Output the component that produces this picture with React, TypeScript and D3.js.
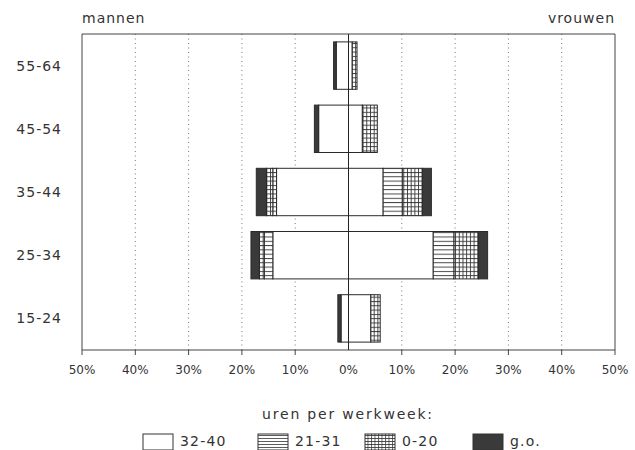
import React from "react";
import * as d3 from "d3";

const ageGroups = ["55-64", "45-54", "35-44", "25-34", "15-24"];
const hourClasses = ["32-40", "21-31", "0-20", "g.o."];
// men, % per class (order of ageGroups)
const men3240 = [2.3, 5.6, 13.5, 14.2, 1.4];
const men2131 = [0, 0, 0.7, 1.6, 0];
const men020 = [0, 0, 1.2, 0.9, 0];
const menGo = [0.5, 0.8, 1.9, 1.6, 0.6];
// women
const women3240 = [0.7, 2.6, 6.5, 15.9, 4.2];
const women2131 = [0, 0, 3.6, 3.9, 0];
const women020 = [0.9, 2.8, 3.75, 4.6, 1.75];
const womenGo = [0, 0, 1.7, 1.7, 0];
const xTicks = [-50, -40, -30, -20, -10, 0, 10, 20, 30, 40, 50];
const sideLabels = ["mannen", "vrouwen"];
const legendTitle = "uren per werkweek:";

const W = 635;
const H = 450;
const FONT = "'DejaVu Sans', sans-serif";
const TXT = "#333";

const fills = ["#ffffff", "url(#hLines)", "url(#grid)", "#3a3a3a"];
const legendFills = ["#ffffff", "url(#hLinesL)", "url(#gridL)", "#3a3a3a"];

export default function App() {
  const x = d3.scaleLinear().domain([-50, 50]).range([82, 615]);
  const y = d3
    .scaleBand<string>()
    .domain(ageGroups)
    .range([34, 350])
    .paddingInner(0.25)
    .paddingOuter(0.125);

  const menSeries = [men3240, men2131, men020, menGo];
  const womenSeries = [women3240, women2131, women020, womenGo];

  const segs: { key: string; x0: number; x1: number; y: number; h: number; fill: string }[] = [];
  ageGroups.forEach((g, i) => {
    let cm = 0;
    menSeries.forEach((s, k) => {
      const v = s[i];
      if (v > 0) {
        segs.push({ key: `m${i}${k}`, x0: x(-(cm + v)), x1: x(-cm), y: y(g)!, h: y.bandwidth(), fill: fills[k] });
      }
      cm += v;
    });
    let cw = 0;
    womenSeries.forEach((s, k) => {
      const v = s[i];
      if (v > 0) {
        segs.push({ key: `w${i}${k}`, x0: x(cw), x1: x(cw + v), y: y(g)!, h: y.bandwidth(), fill: fills[k] });
      }
      cw += v;
    });
  });

  const top = 34;
  const bottom = 350;
  const legendX = [143, 258, 365, 473];

  return (
    <svg
      width={W}
      height={H}
      style={{ position: "absolute", left: 0, top: 0, background: "#fff" }}
      fontFamily={FONT}
    >
      <defs>
        <pattern id="hLines" patternUnits="userSpaceOnUse" width="10" height="4.3">
          <rect width="10" height="4.3" fill="#fff" />
          <line x1="0" x2="10" y1="0.5" y2="0.5" stroke="#333" strokeWidth="0.9" />
        </pattern>
        <pattern id="grid" patternUnits="userSpaceOnUse" width="3.7" height="4.3">
          <rect width="3.7" height="4.3" fill="#fff" />
          <line x1="0" x2="3.7" y1="0.5" y2="0.5" stroke="#333" strokeWidth="0.9" />
          <line x1="0.5" x2="0.5" y1="0" y2="4.3" stroke="#333" strokeWidth="0.9" />
        </pattern>
        <pattern id="hLinesL" patternUnits="userSpaceOnUse" width="10" height="3">
          <rect width="10" height="3" fill="#fff" />
          <line x1="0" x2="10" y1="0.5" y2="0.5" stroke="#333" strokeWidth="0.8" />
        </pattern>
        <pattern id="gridL" patternUnits="userSpaceOnUse" width="3.5" height="3">
          <rect width="3.5" height="3" fill="#fff" />
          <line x1="0" x2="3.5" y1="0.5" y2="0.5" stroke="#333" strokeWidth="0.8" />
          <line x1="0.5" x2="0.5" y1="0" y2="3" stroke="#333" strokeWidth="0.8" />
        </pattern>
      </defs>

      {/* gridlines */}
      {xTicks
        .filter((t) => t !== 0 && Math.abs(t) !== 50)
        .map((t) => (
          <line
            key={`g${t}`}
            x1={x(t)}
            x2={x(t)}
            y1={top}
            y2={bottom}
            stroke="#777"
            strokeWidth={1}
            strokeDasharray="1,3.5"
          />
        ))}

      {/* bars */}
      {segs.map((s) => (
        <rect
          key={s.key}
          x={s.x0}
          y={s.y}
          width={s.x1 - s.x0}
          height={s.h}
          fill={s.fill}
          stroke="#2a2a2a"
          strokeWidth={1}
        />
      ))}

      {/* frame */}
      <path
        d={`M${x(-50)},${bottom + 5}V${top}H${x(50)}V${bottom + 5}`}
        fill="none"
        stroke="#444"
        strokeWidth={1}
      />
      <line x1={x(-50)} x2={x(50)} y1={bottom} y2={bottom} stroke="#444" strokeWidth={1} />
      <line x1={x(0)} x2={x(0)} y1={top} y2={bottom} stroke="#222" strokeWidth={1} />
      {xTicks
        .filter((t) => t !== 0 && Math.abs(t) !== 50)
        .map((t) => (
          <line key={`t${t}`} x1={x(t)} x2={x(t)} y1={bottom} y2={bottom + 5} stroke="#444" strokeWidth={1} />
        ))}

      {/* tick labels */}
      {xTicks.map((t) => (
        <text
          key={`l${t}`}
          x={x(t)}
          y={374}
          textAnchor="middle"
          fontSize={12}
          fill={TXT}
        >
          {`${Math.abs(t)}%`}
        </text>
      ))}

      {/* y labels */}
      {ageGroups.map((g) => (
        <text
          key={g}
          x={62}
          y={y(g)! + y.bandwidth() / 2 + 5}
          textAnchor="end"
          fontSize={14}
          letterSpacing={1}
          fill={TXT}
        >
          {g}
        </text>
      ))}

      <text x={82} y={23} fontSize={14} letterSpacing={1} fill={TXT}>
        {sideLabels[0]}
      </text>
      <text x={615} y={23} fontSize={14} letterSpacing={1} textAnchor="end" fill={TXT}>
        {sideLabels[1]}
      </text>

      {/* legend */}
      <text x={348} y={419} fontSize={14} letterSpacing={1.8} textAnchor="middle" fill={TXT}>
        {legendTitle}
      </text>
      {hourClasses.map((c, k) => (
        <g key={c}>
          <rect
            x={legendX[k]}
            y={434}
            width={30}
            height={16}
            fill={legendFills[k]}
            stroke="#333"
            strokeWidth={1}
          />
          <text x={legendX[k] + 37} y={446} fontSize={14} letterSpacing={1.2} fill={TXT}>
            {c}
          </text>
        </g>
      ))}
    </svg>
  );
}
